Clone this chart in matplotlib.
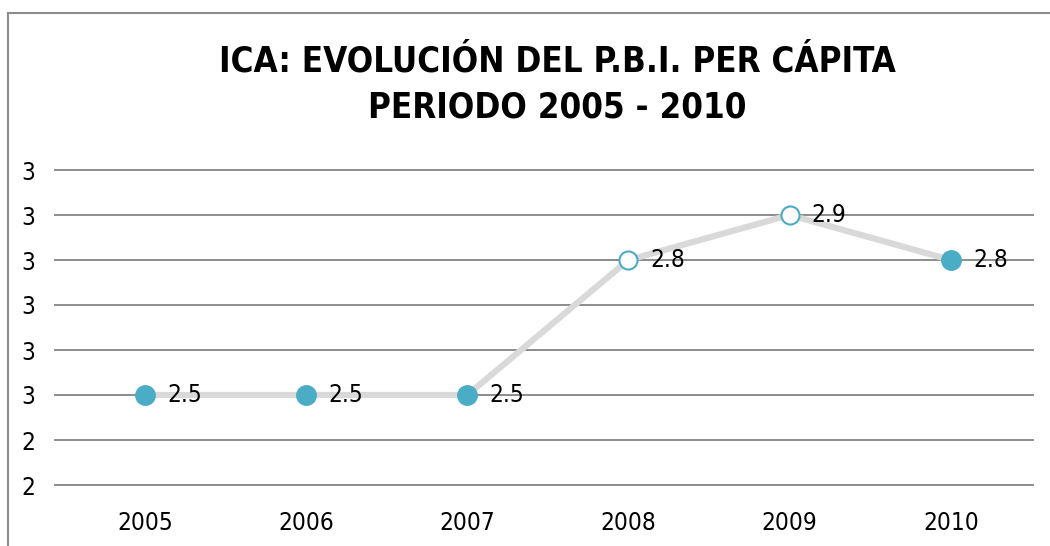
import matplotlib
matplotlib.use("Agg")
import matplotlib.pyplot as plt
from matplotlib.lines import Line2D

anios = ["2005", "2006", "2007", "2008", "2009", "2010"]
pbi = [2.5, 2.5, 2.5, 2.8, 2.9, 2.8]
hueco = [False, False, False, True, True, False]
ticks_y = [2.3, 2.4, 2.5, 2.6, 2.7, 2.8, 2.9, 3.0]
etiquetas_y = ["2", "2", "3", "3", "3", "3", "3", "3"]

azul = "#4BACC6"
fuente = dict(family="DejaVu Sans", stretch="condensed")

fig = plt.figure(figsize=(10.5, 5.46), dpi=100)
ax = fig.add_axes([55 / 1050, 1 - 485 / 546, 978 / 1050, 315 / 546])

x = list(range(len(anios)))
ax.plot(x, pbi, color="#D9D9D9", linewidth=4.5, zorder=2, solid_capstyle="round")
for i in x:
    if hueco[i]:
        ax.plot(i, pbi[i], "o", markersize=13, markerfacecolor="white",
                markeredgecolor=azul, markeredgewidth=1.5, zorder=3)
    else:
        ax.plot(i, pbi[i], "o", markersize=14, markerfacecolor=azul,
                markeredgecolor=azul, zorder=3)
    ax.annotate(str(pbi[i]), (i, pbi[i]), xytext=(16, 0), textcoords="offset points",
                va="center", ha="left", fontsize=17.5, **fuente)

ax.set_xlim(-0.558, 5.51)
ax.set_ylim(2.3, 3.0)
ax.set_xticks(x)
ax.set_xticklabels(anios, fontsize=17.5, **fuente)
ax.set_yticks(ticks_y)
ax.set_yticklabels(etiquetas_y, fontsize=17.5, **fuente)
ax.tick_params(length=0)
ax.tick_params(axis="x", pad=19)
ax.tick_params(axis="y", pad=14)
ax.grid(axis="y", color="#8C8C8C", linewidth=1.4)
for g in ax.get_ygridlines():
    g.set_clip_on(False)
ax.set_axisbelow(True)
for s in ax.spines.values():
    s.set_visible(False)

fig.text(0.531, 1 - 61 / 546, "ICA: EVOLUCIÓN DEL P.B.I. PER CÁPITA",
         ha="center", va="center", fontsize=25, weight="bold", **fuente)
fig.text(0.531, 1 - 107 / 546, "PERIODO 2005 - 2010",
         ha="center", va="center", fontsize=25, weight="bold", **fuente)

# marco del grafico
fig.add_artist(Line2D([8 / 1050, 8 / 1050], [0, 1 - 13 / 546], color="#8C8C8C", linewidth=1.5))
fig.add_artist(Line2D([8 / 1050, 1], [1 - 13 / 546, 1 - 13 / 546], color="#8C8C8C", linewidth=1.5))

fig.savefig("out.png", dpi=100)
